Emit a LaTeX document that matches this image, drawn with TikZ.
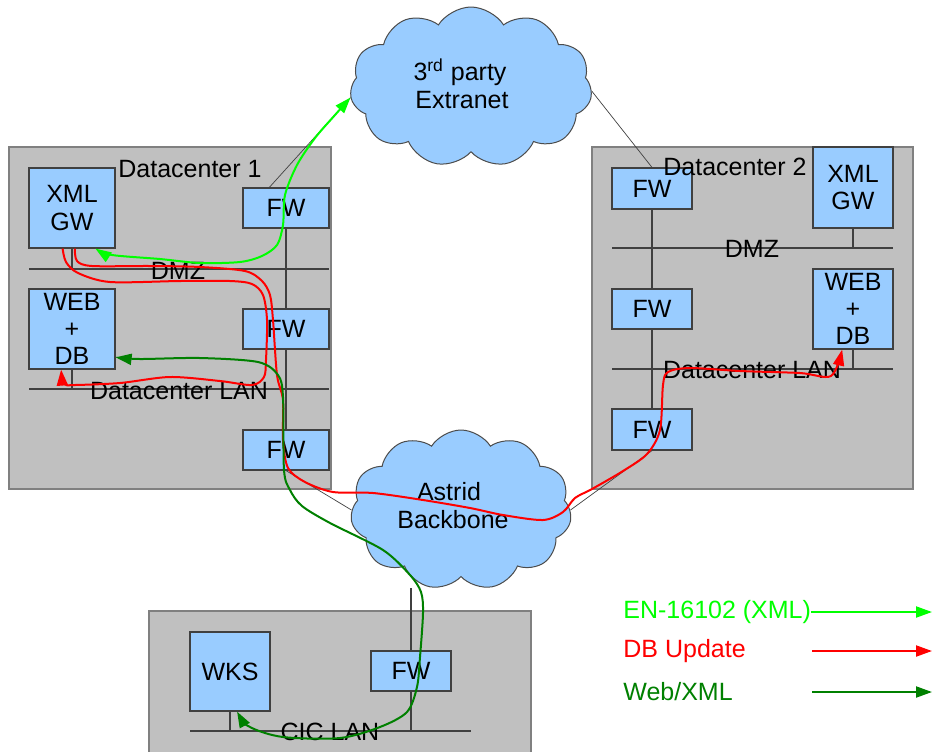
\documentclass[tikz,border=0pt]{standalone}
\usepackage{fontspec}
\setmainfont{Liberation Sans}
\usetikzlibrary{shapes.symbols,arrows.meta,backgrounds}
\definecolor{boxblue}{HTML}{99CCFF}
\definecolor{zonegray}{HTML}{C0C0C0}
\definecolor{zoneedge}{HTML}{808080}
\definecolor{lgreen}{HTML}{00FF00}
\definecolor{dgreen}{HTML}{008000}
\definecolor{rred}{HTML}{FF0000}
\definecolor{edge}{HTML}{404040}
\begin{document}
\begin{tikzpicture}[x=0.5pt,y=-0.5pt,
  font=\fontsize{12.5}{13.6}\selectfont,
  zone/.style={fill=zonegray, draw=zoneedge, line width=0.8pt, inner sep=0pt},
  box/.style={draw=edge, fill=boxblue, line width=0.6pt, align=center, inner sep=0pt},
  bus/.style={draw=edge, line width=0.6pt},
  link/.style={draw=black!75, line width=0.35pt},
  cloudn/.style={cloud, cloud puffs=11, cloud puff arc=115, draw=black!70, fill=boxblue, line width=0.5pt, align=center, inner sep=0pt},
  lbl/.style={inner sep=0pt},
  flow/.style={line width=1pt},
  tipA/.style={-{Triangle[length=8pt,width=5.5pt]}},
  tipB/.style={{Triangle[length=8pt,width=5.5pt]}-{Triangle[length=8pt,width=5.5pt]}}]
\useasboundingbox (0,0) rectangle (932,751);

% clouds
\node[cloudn, minimum width=121pt, minimum height=80pt] (ext) at (471,87) {};
\node[cloudn, minimum width=110.5pt, minimum height=80pt] (astrid) at (461,510) {};
\node[lbl] (extt1) at (460,72) {3\textsuperscript{rd} party};
\node[lbl] (extt2) at (462,100) {Extranet};
\node[lbl] (astt1) at (449,492) {Astrid};
\node[lbl] (astt2) at (453,520) {Backbone};

% Datacenter 1 boxes
\node[box, minimum width=43pt, minimum height=40pt] (xml1) at (72,208) {XML\\GW};
\node[box, minimum width=43pt, minimum height=40pt] (web1) at (72,329) {WEB\\+\\DB};
\node[box, minimum width=43pt, minimum height=20pt] (fw11) at (286,208) {FW};
\node[box, minimum width=43pt, minimum height=20pt] (fw12) at (286,329) {FW};
\node[box, minimum width=43pt, minimum height=20pt] (fw13) at (286,450) {FW};

% Datacenter 2 boxes
\node[box, minimum width=40pt, minimum height=40.5pt] (xml2) at (853,187.5) {XML\\GW};
\node[box, minimum width=40pt, minimum height=40pt] (web2) at (853,309) {WEB\\+\\DB};
\node[box, minimum width=40pt, minimum height=20.5pt] (fw21) at (652,188.5) {FW};
\node[box, minimum width=40pt, minimum height=20pt] (fw22) at (652,309) {FW};
\node[box, minimum width=40pt, minimum height=20.5pt] (fw23) at (652,429.5) {FW};

% CIC boxes
\node[box, minimum width=40pt, minimum height=39.5pt] (wks) at (230,671.5) {WKS};
\node[box, minimum width=40pt, minimum height=20pt] (fwc) at (411,671) {FW};

% bus end points
\coordinate (dmz1w) at (29,269);  \coordinate (dmz1e) at (329,269);
\coordinate (lan1w) at (29,389);  \coordinate (lan1e) at (329,389);
\coordinate (dmz2w) at (612,248); \coordinate (dmz2e) at (893,248);
\coordinate (lan2w) at (612,369); \coordinate (lan2e) at (893,369);
\coordinate (lan3w) at (190,731); \coordinate (lan3e) at (471,731);
\coordinate (astfoot) at (411,588);

\begin{pgfonlayer}{background}
  \node[zone, minimum width=161pt, minimum height=171pt] (dc1) at (170,318) {};
  \node[zone, minimum width=160.5pt, minimum height=171pt] (dc2) at (752.5,318) {};
  \node[zone, minimum width=191pt, minimum height=80pt] (cic) at (340,691) {};
  % buses
  \draw[bus] (dmz1w) -- (dmz1e);
  \draw[bus] (lan1w) -- (lan1e);
  \draw[bus] (xml1.south) -- (xml1.south |- dmz1w);
  \draw[bus] (web1.south) -- (web1.south |- lan1w);
  \draw[bus] (fw11.south) -- (fw13.north);
  \draw[bus] (dmz2w) -- (dmz2e);
  \draw[bus] (lan2w) -- (lan2e);
  \draw[bus] (xml2.south) -- (xml2.south |- dmz2w);
  \draw[bus] (web2.south) -- (web2.south |- lan2w);
  \draw[bus] (fw21.south) -- (fw23.north);
  \draw[bus] (lan3w) -- (lan3e);
  \draw[bus] (wks.south) -- (wks.south |- lan3w);
  \draw[bus] (astfoot) -- (astfoot |- lan3w);
  % links to clouds
  \draw[link] (ext.185) -- (fw11.129);
  \draw[link] (ext.-2) -- (fw21.north);
  \draw[link] (fw13.south) -- (astrid.180);
  \draw[link] (fw23.south) -- (astrid.0);
\end{pgfonlayer}

% zone labels
\node[lbl] (dc1t) at (190,169) {Datacenter 1};
\node[lbl] (dc2t) at (735,167) {Datacenter 2};
\node[lbl] (dmz1t) at (178,271) {DMZ};
\node[lbl] (lan1t) at (179,391) {Datacenter LAN};
\node[lbl] (dmz2t) at (752,249) {DMZ};
\node[lbl] (lan2t) at (752,370) {Datacenter LAN};
\node[lbl] (lan3t) at (330,732) {CIC LAN};

% flows
\draw[flow, lgreen, tipB] plot[smooth, tension=0.5] coordinates {(xml1.-60) (112,255) (160,259) (200,263) (240,262) (262,256) (277,245) (283,225) (285,195) (297,165) (315,138) (335,115) (ext.185)};

\draw[flow, rred, tipA] plot[smooth, tension=0.5] coordinates {(xml1.257) (66,262) (78,273) (110,282) (180,281) (230,281) (252,284) (263,295) (267,320) (266,360) (264,377) (252,385) (220,381) (170,377) (120,383) (75,385) (64,384) (web1.255)};

\draw[flow, rred, tipA] plot[smooth, tension=0.5] coordinates {(xml1.274) (77,261) (92,266) (150,266) (200,267) (245,271) (262,281) (270,295) (273,320) (277,375) (283,400) (283,440) (288,468) (305,482) (333,492) (373,493) (423,500) (470,508) (503,515) (543,520) (563,512) (575,498) (592,489) (623,471) (647,454) (660,430) (663,385) (668,372) (690,368) (740,371) (800,373) (831,376) (web2.255)};

\draw[flow, dgreen, tipB] plot[smooth, tension=0.5] coordinates {(wks.-80) (250,727) (283,737) (340,738) (380,727) (407,712) (417,687) (420,657) (423,613) (421,592) (410,575) (383,550) (330,523) (302,506) (290,490) (284,470) (283,397) (278,375) (258,362) (200,358) (140,359) (web1.-33)};

% legend
\node[lbl, anchor=west, text=lgreen] (leg1) at (623,612) {EN-16102 (XML)};
\node[lbl, anchor=west, text=rred] (leg2) at (623,651) {DB Update};
\node[lbl, anchor=west, text=dgreen] (leg3) at (623,692) {Web/XML};
\coordinate (leg1e) at (932,612);
\coordinate (leg2s) at (812,651); \coordinate (leg2e) at (932,651);
\coordinate (leg3s) at (812,692); \coordinate (leg3e) at (932,692);
\draw[flow, lgreen, tipA] (leg1.east) -- (leg1e);
\draw[flow, rred, tipA] (leg2s) -- (leg2e);
\draw[flow, dgreen, tipA] (leg3s) -- (leg3e);
\end{tikzpicture}
\end{document}
